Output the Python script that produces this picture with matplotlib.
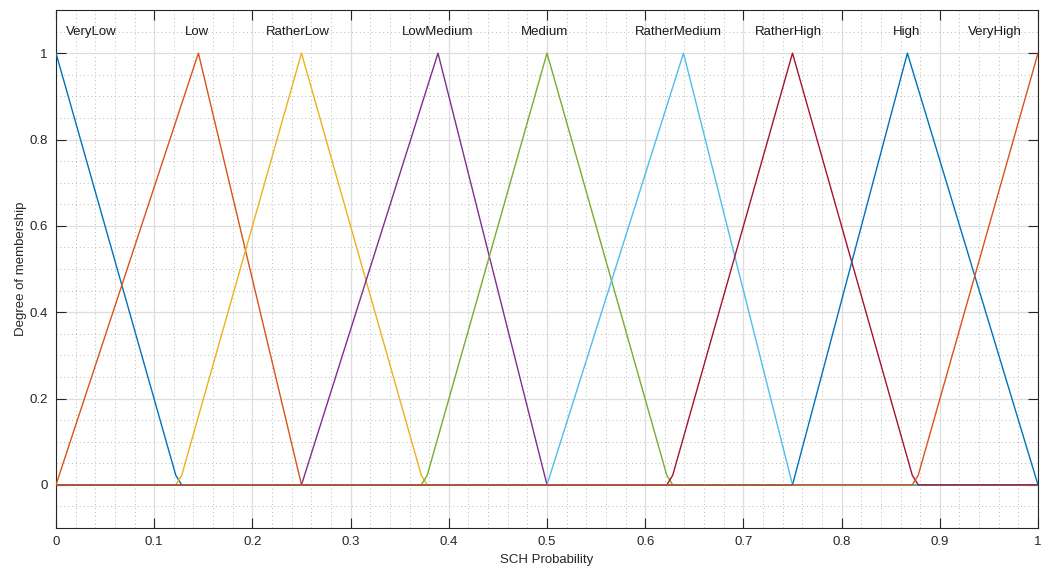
import matplotlib
matplotlib.use("Agg")
import matplotlib.pyplot as plt
from matplotlib.ticker import MultipleLocator

plt.rcParams['font.family'] = ['Liberation Sans', 'DejaVu Sans']

names = ["VeryLow", "Low", "RatherLow", "LowMedium", "Medium",
         "RatherMedium", "RatherHigh", "High", "VeryHigh"]

x_verylow = [0, 0.122, 0.128, 1]
y_verylow = [1, 0.022, 0, 0]
x_low = [0, 0.145, 0.25, 1]
y_low = [0, 1, 0, 0]
x_ratherlow = [0, 0.122, 0.128, 0.25, 0.372, 0.378, 1]
y_ratherlow = [0, 0, 0.022, 1, 0.022, 0, 0]
x_lowmedium = [0, 0.25, 0.389, 0.5, 1]
y_lowmedium = [0, 0, 1, 0, 0]
x_medium = [0, 0.372, 0.378, 0.5, 0.622, 0.628, 1]
y_medium = [0, 0, 0.022, 1, 0.022, 0, 0]
x_rathermedium = [0, 0.5, 0.639, 0.75, 1]
y_rathermedium = [0, 0, 1, 0, 0]
x_ratherhigh = [0, 0.622, 0.628, 0.75, 0.872, 0.878, 1]
y_ratherhigh = [0, 0, 0.022, 1, 0.022, 0, 0]
x_high = [0, 0.75, 0.867, 1]
y_high = [0, 0, 1, 0]
x_veryhigh = [0, 0.872, 0.878, 1]
y_veryhigh = [0, 0, 0.022, 1]

label_x = [0.036, 0.144, 0.246, 0.389, 0.497, 0.634, 0.746, 0.866, 0.956]
label_y = 1.05

series = [(x_verylow, y_verylow), (x_low, y_low), (x_ratherlow, y_ratherlow),
          (x_lowmedium, y_lowmedium), (x_medium, y_medium),
          (x_rathermedium, y_rathermedium), (x_ratherhigh, y_ratherhigh),
          (x_high, y_high), (x_veryhigh, y_veryhigh)]

colors = [(0, 0.447, 0.741), (0.85, 0.325, 0.098), (0.929, 0.694, 0.125),
          (0.494, 0.184, 0.556), (0.466, 0.674, 0.188), (0.301, 0.745, 0.933),
          (0.635, 0.078, 0.184)]

fig = plt.figure(figsize=(10.48, 5.72), dpi=100)
ax = fig.add_axes([56/1048, 1 - 528/572, (1038-56)/1048, (528-10)/572])

for i, (xs, ys) in enumerate(series):
    ax.plot(xs, ys, color=colors[i % len(colors)], lw=1.0, zorder=3)

for nm, lx in zip(names, label_x):
    ax.text(lx, label_y, nm, ha='center', va='center', fontsize=9.5,
            color=(0.1, 0.1, 0.1), zorder=4)

ax.set_xlim(0, 1)
ax.set_ylim(-0.1, 1.1)
ax.set_xticks([i / 10 for i in range(11)])
ax.set_xticklabels(["0", "0.1", "0.2", "0.3", "0.4", "0.5", "0.6", "0.7", "0.8", "0.9", "1"])
ax.set_yticks([0, 0.2, 0.4, 0.6, 0.8, 1.0])
ax.set_yticklabels(["0", "0.2", "0.4", "0.6", "0.8", "1"])
ax.xaxis.set_minor_locator(MultipleLocator(0.02))
ax.yaxis.set_minor_locator(MultipleLocator(0.05))

ax.grid(which='major', color=(0.87, 0.87, 0.87), lw=0.9, ls='-', zorder=0)
ax.grid(which='minor', color=(0.72, 0.72, 0.72), lw=0.7, ls=(0, (1, 3)), zorder=0)
ax.set_axisbelow(True)

ax.tick_params(which='major', direction='in', length=7, width=0.8,
               top=True, right=True, labelsize=9.5, colors=(0.15, 0.15, 0.15), pad=6)
ax.tick_params(which='minor', length=0, top=True, right=True)
for s in ax.spines.values():
    s.set_color((0.15, 0.15, 0.15))
    s.set_linewidth(0.8)

ax.set_xlabel("SCH Probability", fontsize=9.5, color=(0.15, 0.15, 0.15), labelpad=4)
ax.set_ylabel("Degree of membership", fontsize=9.5, color=(0.15, 0.15, 0.15), labelpad=2)

fig.savefig("out.png", dpi=100)
